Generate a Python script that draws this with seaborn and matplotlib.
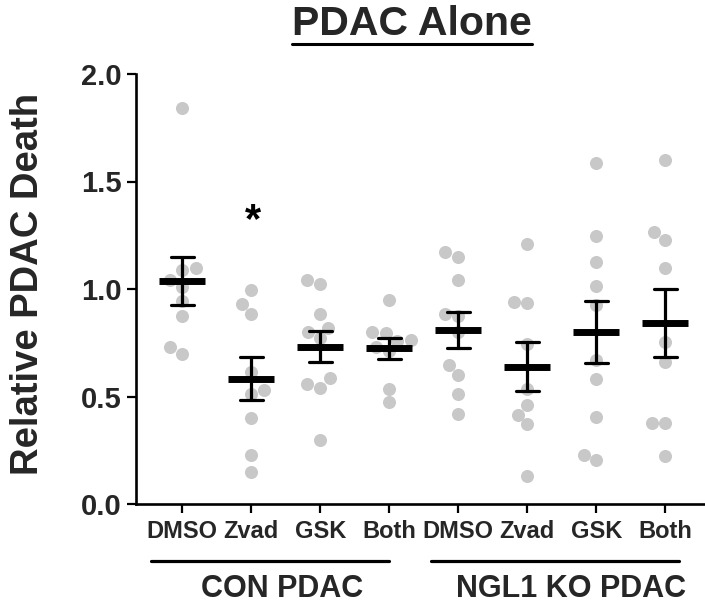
import matplotlib
matplotlib.use("Agg")
import matplotlib.pyplot as plt
import matplotlib.transforms as mtransforms
from matplotlib.lines import Line2D
import numpy as np
import pandas as pd
import seaborn as sns

# ---------------- data ----------------
categories = ["CON DMSO", "CON Zvad", "CON GSK", "CON Both",
              "NGL1 DMSO", "NGL1 Zvad", "NGL1 GSK", "NGL1 Both"]
tick_labels = ["DMSO", "Zvad", "GSK", "Both", "DMSO", "Zvad", "GSK", "Both"]
group_names = ["CON PDAC", "NGL1 KO PDAC"]

con_dmso = [1.84, 1.09, 1.10, 1.04, 1.01, 0.945, 0.875, 0.73, 0.70]
con_zvad = [0.995, 0.93, 0.885, 0.615, 0.53, 0.51, 0.40, 0.23, 0.15]
con_gsk = [1.025, 1.04, 0.885, 0.82, 0.80, 0.77, 0.56, 0.54, 0.585, 0.30]
con_both = [0.95, 0.795, 0.80, 0.763, 0.76, 0.73, 0.71, 0.535, 0.474]
ngl_dmso = [1.17, 1.15, 1.04, 0.875, 0.885, 0.80, 0.645, 0.60, 0.51, 0.42]
ngl_zvad = [1.21, 0.935, 0.94, 0.745, 0.535, 0.46, 0.415, 0.37, 0.13]
ngl_gsk = [1.585, 1.245, 1.125, 1.015, 0.925, 0.67, 0.58, 0.405, 0.205, 0.23]
ngl_both = [1.60, 1.265, 1.23, 1.10, 0.755, 0.66, 0.375, 0.375, 0.225]

series = [con_dmso, con_zvad, con_gsk, con_both,
          ngl_dmso, ngl_zvad, ngl_gsk, ngl_both]

df = pd.DataFrame({
    "cond": [c for c, vals in zip(categories, series) for _ in vals],
    "value": [v for vals in series for v in vals],
})

# ---------------- style ----------------
sns.set_style("ticks")
plt.rcParams["font.family"] = ["Liberation Sans", "DejaVu Sans"]
plt.rcParams["font.weight"] = "bold"

W, H = 705, 611
fig = plt.figure(figsize=(W / 100, H / 100), dpi=100)
ax = fig.add_axes([136 / W, 1 - 504 / H, (705 - 136) / W, (504 - 74) / H])

sns.swarmplot(data=df, x="cond", y="value", order=categories,
              color="#c8c8c8", size=9.4, linewidth=0, ax=ax, zorder=1)

sns.pointplot(data=df, x="cond", y="value", order=categories,
              errorbar="se", color="black", markers="_", linestyle="none",
              capsize=0.33, err_kws={"linewidth": 2.3},
              markersize=33, markeredgewidth=5.0, ax=ax, zorder=3)

ax.set_xlim(-0.671, 7.575)
ax.set_ylim(0, 2.0)
ax.set_yticks([0, 0.5, 1.0, 1.5, 2.0])
ax.set_yticklabels(["0.0", "0.5", "1.0", "1.5", "2.0"], fontsize=21, fontweight="bold")
ax.set_xticks(range(len(categories)))
ax.set_xticklabels(tick_labels, fontsize=17, fontweight="bold")
ax.set_xlabel("")
ax.set_ylabel("")
sns.despine(ax=ax)
for s in ["left", "bottom"]:
    ax.spines[s].set_linewidth(1.9)
    ax.spines[s].set_color("black")
ax.tick_params(axis="both", direction="out", length=6.2, width=1.6, color="black")
ax.tick_params(axis="y", pad=4)
ax.tick_params(axis="x", pad=5.5)

# asterisk
ax.text(1.02, 1.265, "*", ha="center", va="baseline", fontsize=30,
        fontweight="bold", color="black")

# group lines and labels
trans = mtransforms.blended_transform_factory(ax.transData, ax.transAxes)
line_spans = [(-0.458, 3.0), (3.60, 7.2)]
label_x = [1.45, 5.63]
for (x0, x1), lx, name in zip(line_spans, label_x, group_names):
    ax.add_line(Line2D([x0, x1], [-0.1326, -0.1326], transform=trans,
                       color="black", linewidth=2.3, clip_on=False))
    ax.text(lx, -0.1977, name, transform=trans, ha="center", va="center",
            fontsize=22, fontweight="bold")

# y label
fig.text(28.5 / W, 1 - 283.5 / H, "Relative PDAC Death", rotation=90,
         ha="center", va="center", fontsize=27.5, fontweight="bold")

# title with underline
t = fig.text(412 / W, 1 - 35 / H, "PDAC Alone", ha="center", va="baseline",
             fontsize=29.5, fontweight="bold")
fig.canvas.draw()
bb = t.get_window_extent(renderer=fig.canvas.get_renderer())
uy = 1 - 44 / H
fig.add_artist(Line2D([bb.x0 / W, bb.x1 / W], [uy, uy], transform=fig.transFigure,
                      color="black", linewidth=2.2))

fig.savefig("out.png", dpi=100)
